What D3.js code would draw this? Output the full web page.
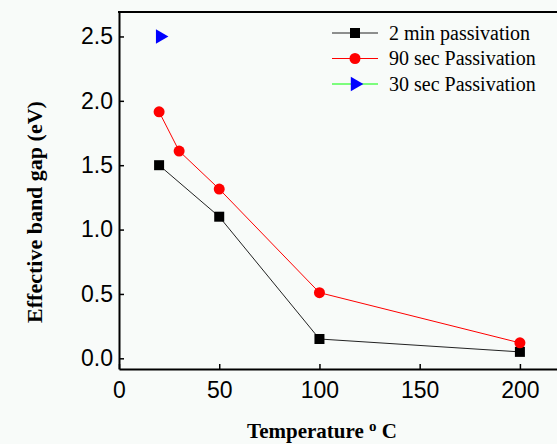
<!DOCTYPE html>
<html>
  <head>
    <meta charset="utf-8" />
    <title>band gap</title>
    <script src="https://cdn.jsdelivr.net/npm/d3@7/dist/d3.min.js"></script>
    <style type="text/css">
      body { margin: 0; background: #f8fbf9; }
      svg { display: block; }
    </style>
  </head>
  <body>
    <svg id="chart" width="557" height="444"></svg>
    <script type="text/javascript">
      // values
      var temps2min = [20, 50, 100, 200];
      var gap2min = [1.5, 1.1, 0.15, 0.05];
      var temps90s = [20, 30, 50, 100, 200];
      var gap90s = [1.915, 1.61, 1.315, 0.51, 0.12];
      var temps30s = [20];
      var gap30s = [2.5];
      var xTicks = [0, 50, 100, 150, 200];
      var yTicks = [0, 0.5, 1.0, 1.5, 2.0, 2.5];
      var legendNames = ['2 min passivation', '90 sec Passivation', '30 sec Passivation'];

      var mLeft = 119, mTop = 12, mRight = 560, mBottom = 369;

      var x = d3.scaleLinear().domain([0, 220]).range([mLeft, mRight]);
      var y = d3.scaleLinear().domain([-0.083, 2.69]).range([mBottom, mTop]);

      var svg = d3.select('#chart');

      function styleAxis(g) {
        g.select('.domain').attr('stroke-width', 2);
        g.selectAll('.tick line').attr('stroke-width', 1.5);
        g.selectAll('text').attr('font-family', 'Liberation Sans, Arial, sans-serif')
          .attr('font-size', 23).attr('fill', '#000');
      }

      // axes, ticks inside
      svg.append('g')
        .attr('transform', 'translate(0,' + mBottom + ')')
        .call(d3.axisBottom(x).tickValues(xTicks).tickSizeInner(-5).tickSizeOuter(0).tickPadding(13))
        .call(styleAxis);

      svg.append('g')
        .attr('transform', 'translate(' + mLeft + ',0)')
        .call(d3.axisLeft(y).tickValues(yTicks).tickFormat(d3.format('.1f')).tickSizeInner(-5).tickSizeOuter(0).tickPadding(6))
        .call(styleAxis);

      // top border
      svg.append('line')
        .attr('x1', mLeft - 1).attr('x2', mRight)
        .attr('y1', mTop).attr('y2', mTop)
        .attr('stroke', '#000').attr('stroke-width', 2);

      var line = d3.line().x((d) => x(d[0])).y((d) => y(d[1]));

      var s2 = d3.zip(temps2min, gap2min);
      var s90 = d3.zip(temps90s, gap90s);
      var s30 = d3.zip(temps30s, gap30s);

      svg.append('path').datum(s2).attr('d', line)
        .attr('fill', 'none').attr('stroke', '#222').attr('stroke-width', 1);
      svg.append('path').datum(s90).attr('d', line)
        .attr('fill', 'none').attr('stroke', '#ff0000').attr('stroke-width', 1);

      svg.selectAll('rect.sq').data(s2).enter().append('rect')
        .attr('class', 'sq')
        .attr('x', (d) => x(d[0]) - 5).attr('y', (d) => y(d[1]) - 5)
        .attr('width', 10).attr('height', 10).attr('fill', '#000');

      svg.selectAll('circle.dot').data(s90).enter().append('circle')
        .attr('class', 'dot')
        .attr('cx', (d) => x(d[0])).attr('cy', (d) => y(d[1]))
        .attr('r', 5.5).attr('fill', '#ff0000');

      var tri = d3.symbol().type(d3.symbolTriangle).size(90);
      svg.selectAll('path.tri').data(s30).enter().append('path')
        .attr('class', 'tri')
        .attr('d', tri)
        .attr('transform', (d) => 'translate(' + (x(d[0]) + 1) + ',' + y(d[1]) + ') rotate(90)')
        .attr('fill', '#0000ff');

      // legend
      var legColors = ['#222', '#ff0000', '#00ff00'];
      var leg = svg.selectAll('g.leg').data(legendNames).enter().append('g')
        .attr('class', 'leg')
        .attr('transform', (d, i) => 'translate(332,' + (33 + i * 25.5) + ')');
      leg.append('line').attr('x1', 0).attr('x2', 46)
        .attr('stroke', (d, i) => legColors[i]).attr('stroke-width', 1);
      leg.filter((d, i) => i === 0).append('rect')
        .attr('x', 18).attr('y', -5).attr('width', 10).attr('height', 10).attr('fill', '#000');
      leg.filter((d, i) => i === 1).append('circle')
        .attr('cx', 23).attr('r', 5.5).attr('fill', '#ff0000');
      leg.filter((d, i) => i === 2).append('path')
        .attr('d', tri).attr('transform', 'translate(23,0) rotate(90)').attr('fill', '#0000ff');
      leg.append('text').attr('x', 57).attr('dy', '0.33em')
        .attr('font-family', 'Liberation Serif, Times New Roman, serif')
        .attr('font-size', 20).text((d) => d);

      // axis titles
      var xt = svg.append('text')
        .attr('x', 322).attr('y', 438)
        .attr('text-anchor', 'middle')
        .attr('font-family', 'Liberation Serif, Times New Roman, serif')
        .attr('font-weight', 'bold').attr('font-size', 21);
      xt.append('tspan').text('Temperature  ');
      xt.append('tspan').attr('dy', -7).attr('font-size', 15).text('o');
      xt.append('tspan').attr('dy', 7).text(' C');

      svg.append('text')
        .attr('transform', 'translate(42,212) rotate(-90)')
        .attr('text-anchor', 'middle')
        .attr('font-family', 'Liberation Serif, Times New Roman, serif')
        .attr('font-weight', 'bold').attr('font-size', 22)
        .text('Effective band gap (eV)');
    </script>
  </body>
</html>
